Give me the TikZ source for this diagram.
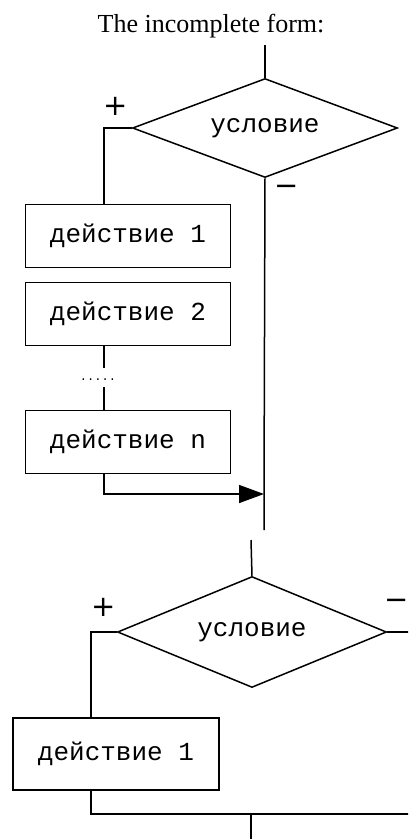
\documentclass[tikz,border=0pt]{standalone}
\usepackage{fontspec}
\setmainfont{Liberation Serif}
\newfontfamily\monofont{Liberation Mono}
\newfontfamily\signfont{DejaVu Sans}
\usetikzlibrary{shapes.geometric,arrows.meta}
\begin{document}
\begin{tikzpicture}[x=1pt,y=-1pt,line width=1.5pt]
        \tikzstyle{every node}=[inner sep=0pt]
        \tikzstyle{cond}=[draw,diamond,aspect=2.6,minimum width=265pt,minimum height=99pt,font=\monofont\fontsize{26}{30}\selectfont]
        \tikzstyle{act}=[draw,rectangle,minimum width=205pt,minimum height=63pt,font=\monofont\fontsize{26}{30}\selectfont]
        \tikzstyle{sign}=[font=\signfont\fontsize{29}{34}\selectfont]
        \useasboundingbox (0,0) rectangle (408,839);
        \clip (0,0) rectangle (408,839);
        \node (title) at (211,26) {\fontsize{26}{30}\selectfont The incomplete form:};
        % first form
        \coordinate (in1) at (265,45);
        \coordinate (lx1) at (104,0);
        \coordinate (join1) at (264,494);
        \coordinate (out1) at (264,530);
        \node[cond] (c1) at (265,128) {условие};
        \node[sign] (plus1) at (116,106) {+};
        \node[sign] (minus1) at (287,190) {−};
        \node[act] (a1) at (128,236) {действие 1};
        \node[act] (a2) at (128,314) {действие 2};
        \node[font=\monofont\fontsize{12}{14}\selectfont] (dots) at (98,380) {.....};
        \node[act] (an) at (128,442) {действие n};
        \draw (in1) -- (c1.north);
        \draw (c1.west) -| (a1.north -| lx1);
        \draw (a2.south -| lx1) -- ++(0,22);
        \draw (an.north -| lx1) -- ++(0,-23);
        \draw (c1.south) -- (join1) -- (out1);
        \draw[-{Triangle[length=25pt,width=18pt]}] (an.south -| lx1) |- (join1);
        % second form
        \coordinate (in2) at (251,540);
        \coordinate (lx2) at (91,0);
        \coordinate (rx) at (412,0);
        \coordinate (join2) at (251,814);
        \coordinate (out2) at (251,842);
        \node[cond,aspect=2.42,minimum width=269pt,minimum height=111pt] (c2) at (252,632) {условие};
        \node[sign] (plus2) at (104,607) {+};
        \node[sign] (minus2) at (397,604) {−};
        \node[act,minimum width=206pt,minimum height=72pt] (b1) at (116,754) {действие 1};
        \draw (in2) -- (c2.north);
        \draw (c2.west) -| (b1.north -| lx2);
        \draw (c2.east) -- (c2.east -| rx);
        \draw (b1.south -| lx2) |- (join2) -- (join2 -| rx);
        \draw (join2) -- (out2);
\end{tikzpicture}
\end{document}
